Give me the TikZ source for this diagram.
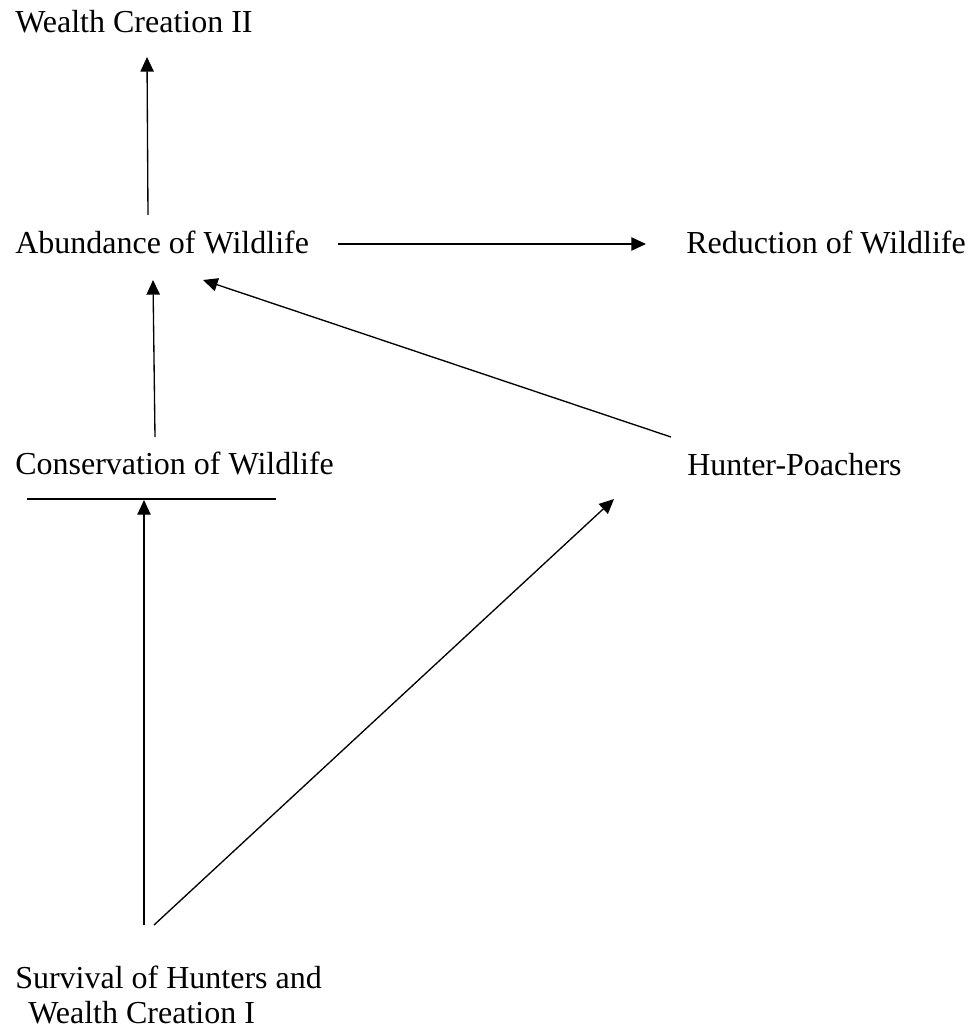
\documentclass[tikz,border=0pt]{standalone}
\usepackage{fontspec}
\setmainfont{Liberation Serif}
\usetikzlibrary{arrows.meta}
\begin{document}
\begin{tikzpicture}[x=0.75pt,y=-0.75pt,
  lbl/.style={inner sep=0pt,anchor=base west,font=\fontsize{24}{28}\selectfont},
  conn/.style={line width=1pt},
  arr/.style={conn,-{Triangle[length=11pt,width=10pt]}}]
\useasboundingbox (0,0) rectangle (979,1034);
% labels
\node[lbl] (wc2) at (15,33) {Wealth Creation II};
\node[lbl] (abund) at (15,253) {Abundance of Wildlife};
\node[lbl] (reduc) at (686,253) {Reduction of Wildlife};
\node[lbl] (cons) at (15,474) {Conservation of Wildlife};
\node[lbl] (hunt) at (687,475) {Hunter-Poachers};
\node[lbl] (surv1) at (15,988) {Survival of Hunters and};
\node[lbl] (surv2) at (28,1023) {Wealth Creation I};
% connector end points
\coordinate (abTop) at (148,215);
\coordinate (wcBot) at (147,57);
\coordinate (abRight) at (338,244);
\coordinate (rdLeft) at (646,244);
\coordinate (consTop) at (155,437);
\coordinate (abBot1) at (153,280);
\coordinate (huTop) at (671,437);
\coordinate (abBot2) at (203,280);
\coordinate (barL) at (27,499);
\coordinate (barR) at (276,499);
\coordinate (barMid) at (144,500);
\coordinate (svTop1) at (144,925);
\coordinate (svTop2) at (154,925);
\coordinate (huBot) at (614,499);
% connectors
\draw[arr] (abTop) -- (wcBot);
\draw[arr] (abRight) -- (rdLeft);
\draw[arr] (consTop) -- (abBot1);
\draw[arr] (huTop) -- (abBot2);
\draw[conn] (barL) -- (barR);
\draw[arr] (svTop1) -- (barMid);
\draw[arr] (svTop2) -- (huBot);
\end{tikzpicture}
\end{document}
